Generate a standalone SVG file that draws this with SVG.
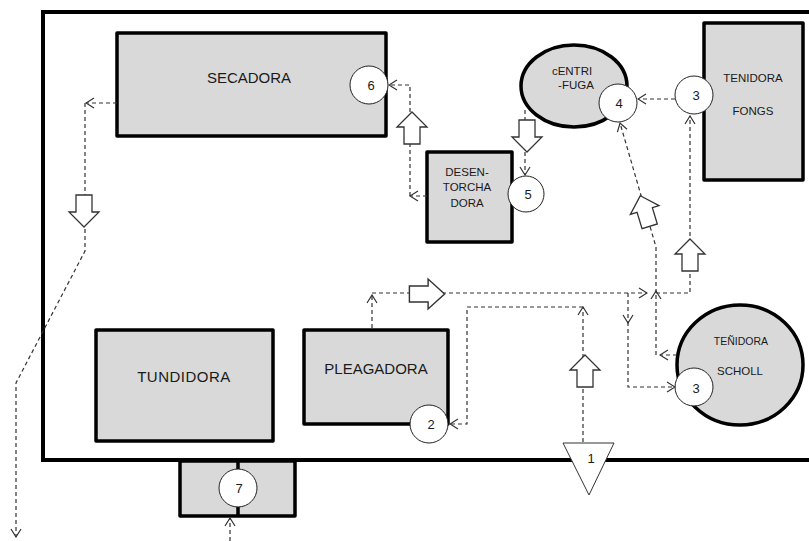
<svg xmlns="http://www.w3.org/2000/svg" width="809" height="541" viewBox="0 0 809 541">
<defs>
<style>
.box{fill:#d9d9d9;stroke:#000;stroke-width:3.5;stroke-linejoin:round}
.num{fill:#fff;stroke:#222;stroke-width:1}
.t{font-family:"Liberation Sans",Arial,sans-serif;fill:#1a1a1a;text-anchor:middle}
.big{font-size:15px}
.sm{font-size:11.5px}
.n{font-size:13px}
.c{fill:none;stroke:#333;stroke-width:1.2;stroke-dasharray:4 3}
.blk{fill:#fff;stroke:#333;stroke-width:1.3;stroke-linejoin:miter}
</style>
<marker id="ah" viewBox="0 0 10 12" refX="9" refY="6" markerWidth="10" markerHeight="12" markerUnits="userSpaceOnUse" orient="auto">
<path d="M1,1 L9,6 L1,11" fill="none" stroke="#333" stroke-width="1.2"/>
</marker>
<polygon id="blk" points="0,-16 15,-1 8,-1 8,16 -8,16 -8,-1 -15,-1"/>
</defs>
<rect width="809" height="541" fill="#fff"/>

<g id="frame">
<rect x="43" y="12" width="800" height="448" fill="none" stroke="#000" stroke-width="4"/>
</g>

<g id="secadora">
<rect class="box" x="117" y="33" width="269" height="103"/>
<text class="t big" x="249" y="83">SECADORA</text>
<circle class="num" cx="369" cy="85" r="19"/>
<text class="t n" x="371" y="90">6</text>
</g>

<g id="desentorchadora">
<rect class="box" x="427" y="152" width="85" height="90"/>
<text class="t sm" x="467" y="176">DESEN-</text>
<text class="t sm" x="467" y="191">TORCHA</text>
<text class="t sm" x="467" y="207">DORA</text>
<circle class="num" cx="526" cy="194" r="18"/>
<text class="t n" x="528" y="199">5</text>
</g>

<g id="centrifuga">
<ellipse cx="574" cy="86" rx="53" ry="41" fill="#d9d9d9" stroke="#000" stroke-width="3.5"/>
<text class="t sm" x="572" y="75">cENTRI</text>
<text class="t sm" x="576" y="89">-FUGA</text>
<circle class="num" cx="618" cy="103" r="19"/>
<text class="t n" x="619" y="108">4</text>
</g>

<g id="tenidora-fongs">
<rect class="box" x="704" y="23" width="99" height="157"/>
<text class="t sm" x="753" y="82">TENIDORA</text>
<text class="t sm" x="753" y="115">FONGS</text>
<circle class="num" cx="694" cy="95" r="19"/>
<text class="t n" x="696" y="100">3</text>
</g>

<g id="tenidora-scholl">
<ellipse cx="740" cy="365" rx="63" ry="60" fill="#d9d9d9" stroke="#000" stroke-width="3.5"/>
<text class="t" style="font-size:10.5px" x="741" y="345">TEÑIDORA</text>
<text class="t sm" x="740" y="375">SCHOLL</text>
<circle class="num" cx="694" cy="387" r="19"/>
<text class="t n" x="696" y="393">3</text>
</g>

<g id="tundidora">
<rect class="box" x="96" y="330" width="177" height="111"/>
<text class="t big" x="184" y="382" style="letter-spacing:0.5px">TUNDIDORA</text>
</g>

<g id="pleagadora">
<rect class="box" x="304" y="330" width="144" height="94"/>
<text class="t big" x="376" y="374">PLEAGADORA</text>
<circle class="num" cx="429" cy="424" r="19"/>
<text class="t n" x="431" y="429">2</text>
</g>

<g id="node1">
<polygon points="563,443 614,443 589,495" fill="#fff" stroke="#333" stroke-width="1"/>
<text class="t n" x="591" y="463">1</text>
</g>

<g id="node7">
<rect class="box" x="180" y="461" width="115" height="55"/>
<line x1="238" y1="461" x2="238" y2="516" stroke="#000" stroke-width="3.5"/>
<circle class="num" cx="238" cy="488" r="19"/>
<text class="t n" x="239" y="493">7</text>
</g>

<g id="connectors">
<path class="c" d="M117,103 L86,103" marker-end="url(#ah)"/>
<path class="c" d="M85,103 L85,251 L16,383 L16,537" marker-end="url(#ah)"/>
<path class="c" d="M427,196 L410,196" marker-end="url(#ah)"/>
<path class="c" d="M410,196 L410,85 L389,85" marker-end="url(#ah)"/>
<path class="c" d="M525,110 L525,175" marker-end="url(#ah)"/>
<path class="c" d="M675,99 L638,99" marker-end="url(#ah)"/>
<path class="c" d="M656,293 L690,293 L690,116" marker-end="url(#ah)"/>
<path class="c" d="M372,328 L372,295" marker-end="url(#ah)"/>
<path class="c" d="M372,293 L647,293" marker-end="url(#ah)"/>
<path class="c" d="M677,355 L660,355" marker-end="url(#ah)"/>
<path class="c" d="M656,355 L656,291" marker-end="url(#ah)"/>
<path class="c" d="M656,293 L656,247 L620,123" marker-end="url(#ah)"/>
<path class="c" d="M628,293 L628,323" marker-end="url(#ah)"/>
<path class="c" d="M628,322 L628,387 L675,387" marker-end="url(#ah)"/>
<path class="c" d="M583,442 L583,307" marker-end="url(#ah)"/>
<path class="c" d="M583,307 L467,307 L467,424 L450,424" marker-end="url(#ah)"/>
<path class="c" d="M230,541 L230,518" marker-end="url(#ah)"/>
<use href="#blk" class="blk" transform="translate(84,211) rotate(180)"/>
<use href="#blk" class="blk" transform="translate(412,128)"/>
<use href="#blk" class="blk" transform="translate(527,136) rotate(180)"/>
<use href="#blk" class="blk" transform="translate(690,255)"/>
<use href="#blk" class="blk" transform="translate(645,211) rotate(-17)"/>
<use href="#blk" class="blk" transform="translate(427,294) rotate(90) scale(1,1.1)"/>
<use href="#blk" class="blk" transform="translate(585,371)"/>
</g>
</svg>
